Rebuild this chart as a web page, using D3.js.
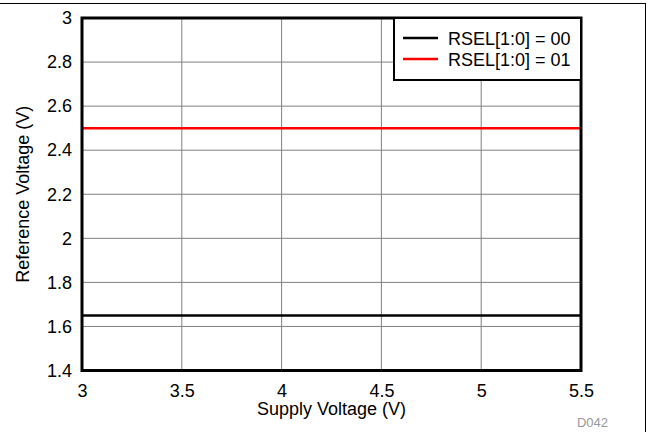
<!DOCTYPE html>
<html><head><meta charset="utf-8">
<script src="https://cdn.jsdelivr.net/npm/d3@7"></script>
<style>body{margin:0;background:#fff}svg{display:block}text{font-family:"Liberation Sans",Arial,sans-serif}</style>
</head><body>
<svg id="c" width="648" height="432"></svg>
<script>
const supplyV = [3, 3.5, 4, 4.5, 5, 5.5];
const rsel00 = [1.65, 1.65, 1.65, 1.65, 1.65, 1.65];
const rsel01 = [2.5, 2.5, 2.5, 2.5, 2.5, 2.5];
const seriesNames = ["RSEL[1:0] = 00", "RSEL[1:0] = 01"];
const seriesColors = ["#000000", "#ff0000"];
const xTicks = [3, 3.5, 4, 4.5, 5, 5.5];
const yTicks = [1.4, 1.6, 1.8, 2, 2.2, 2.4, 2.6, 2.8, 3];

const svg = d3.select("#c");
const L = 82, R = 581, T = 18, B = 370.5;
const FF = '"Liberation Sans",Arial,sans-serif';
const x = d3.scaleLinear().domain([3, 5.5]).range([L, R]);
const y = d3.scaleLinear().domain([1.4, 3]).range([B, T]);

// outer border (only top and right visible)
svg.append("rect").attr("x", -10).attr("y", 3.5).attr("width", 655.5).attr("height", 450)
  .attr("fill", "none").attr("stroke", "#000").attr("stroke-width", 1);

// grid
svg.append("g").selectAll("line").data(xTicks.slice(1, -1)).join("line")
  .attr("x1", d => x(d)).attr("x2", d => x(d)).attr("y1", T).attr("y2", B)
  .attr("stroke", "#808080").attr("stroke-width", 1);
svg.append("g").selectAll("line").data(yTicks.slice(1, -1)).join("line")
  .attr("x1", L).attr("x2", R).attr("y1", d => y(d)).attr("y2", d => y(d))
  .attr("stroke", "#808080").attr("stroke-width", 1);

// data lines
const line = d3.line().x(d => x(d[0])).y(d => y(d[1]));
[rsel00, rsel01].forEach((s, i) => {
  svg.append("path").datum(supplyV.map((v, j) => [v, s[j]]))
    .attr("d", line).attr("fill", "none").attr("stroke", seriesColors[i]).attr("stroke-width", 2.5);
});

// frame
svg.append("rect").attr("x", L).attr("y", T).attr("width", R - L).attr("height", B - T)
  .attr("fill", "none").attr("stroke", "#000").attr("stroke-width", 3);

// axes labels
const xa = svg.append("g").attr("transform", `translate(0,${B + 11.2})`)
  .call(d3.axisBottom(x).tickValues(xTicks).tickSize(0).tickFormat(d3.format("")));
xa.select(".domain").remove();
xa.selectAll("text").attr("font-size", 18).attr("fill", "#000").attr("font-family", FF);
const ya = svg.append("g").attr("transform", `translate(${L - 7},0)`)
  .call(d3.axisLeft(y).tickValues(yTicks).tickSize(0).tickFormat(d3.format("")));
ya.select(".domain").remove();
ya.selectAll("text").attr("font-size", 18).attr("fill", "#000").attr("font-family", FF);

svg.append("text").attr("x", (L + R) / 2).attr("y", 414.5).attr("text-anchor", "middle")
  .attr("font-size", 18).text("Supply Voltage (V)");
svg.append("text").attr("transform", `translate(29,${(T + B) / 2}) rotate(-90)`).attr("text-anchor", "middle")
  .attr("font-size", 18).text("Reference Voltage (V)");
svg.append("text").attr("x", 608).attr("y", 427).attr("text-anchor", "end")
  .attr("font-size", 13).attr("fill", "#999").text("D042");

// legend
const lg = svg.append("g");
lg.append("rect").attr("x", 394).attr("y", 18).attr("width", 187).attr("height", 62)
  .attr("fill", "#fff").attr("stroke", "#000").attr("stroke-width", 2);
seriesNames.forEach((n, i) => {
  const yy = 38 + i * 21;
  lg.append("line").attr("x1", 403).attr("x2", 438).attr("y1", yy).attr("y2", yy)
    .attr("stroke", seriesColors[i]).attr("stroke-width", 2.5);
  lg.append("text").attr("x", 448).attr("y", yy + 6.5).attr("font-size", 18).text(n);
});
</script>
</body></html>
